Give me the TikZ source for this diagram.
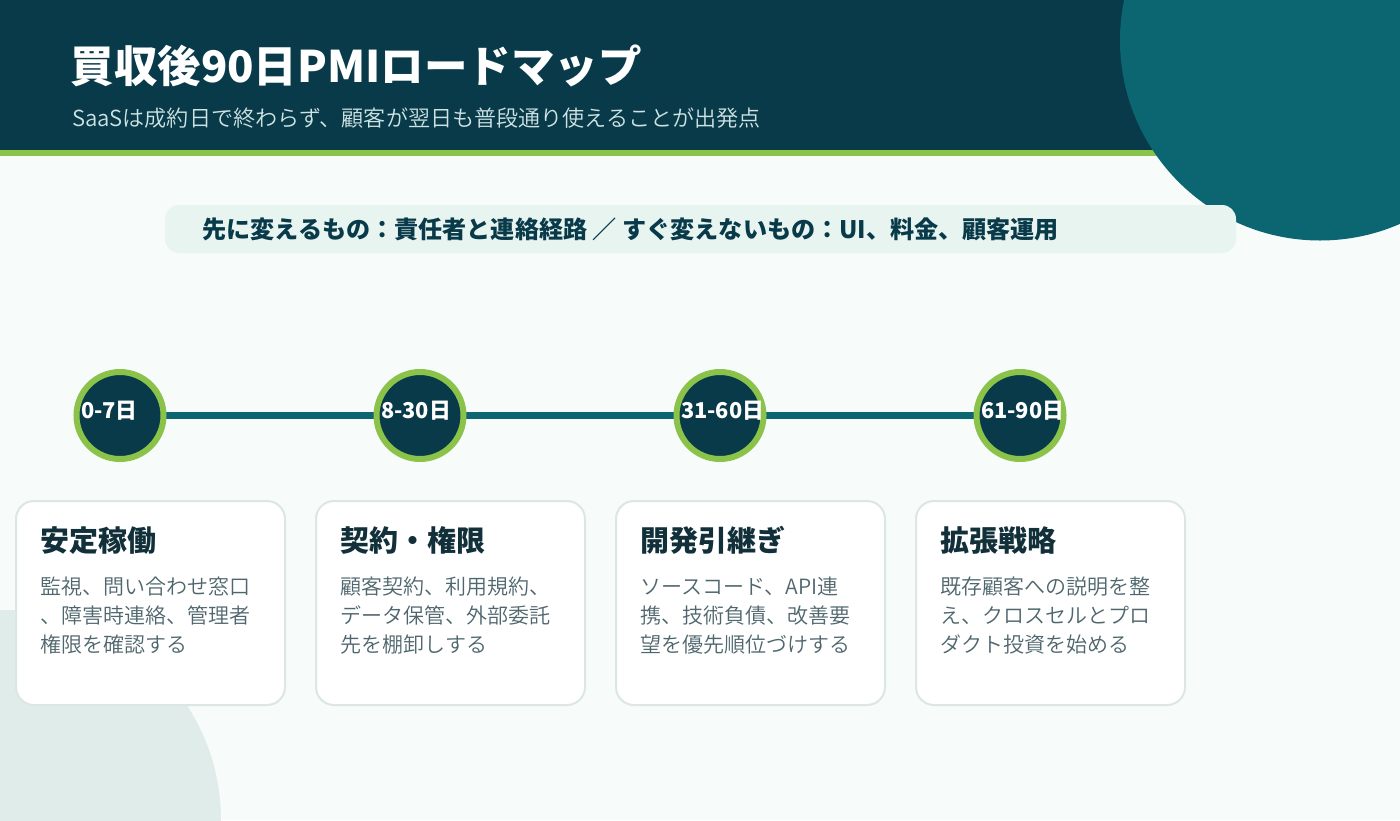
\documentclass[tikz,border=0pt]{standalone}
\usepackage{fontspec}
\setmainfont{Noto Sans CJK JP}
\newfontfamily\jplight{Noto Sans CJK JP DemiLight}
\definecolor{navy}{HTML}{083A4A}
\definecolor{teal2}{HTML}{0B6672}
\definecolor{leaf}{HTML}{8BC34A}
\definecolor{paper}{HTML}{F7FBFA}
\definecolor{band}{HTML}{E8F4F0}
\definecolor{blob}{HTML}{E0ECEA}
\definecolor{edge}{HTML}{DCE7E4}
\definecolor{ink}{HTML}{12303A}
\definecolor{soft}{HTML}{4F666E}
\definecolor{subcol}{HTML}{CFE3E3}
\newcommand{\fs}[1]{\fontsize{#1pt}{#1pt}\selectfont}
\tikzset{
  x=1pt,y=-1pt,
  txt/.style={inner sep=0pt,outer sep=0pt,anchor=base west},
  titletxt/.style={txt,text=white,font=\fs{43.5}\bfseries},
  subtxt/.style={txt,text=subcol,font=\fs{22.1}\jplight},
  bandtxt/.style={txt,text=navy,font=\fs{24.1}\bfseries},
  phase/.style={circle,draw=leaf,fill=navy,line width=6pt,minimum size=87pt,inner sep=0pt,outer sep=0pt},
  phasetxt/.style={txt,text=white,font=\fs{21.8}\bfseries},
  link/.style={draw=teal2,line width=6.5pt},
  cardbox/.style={draw=edge,fill=white,line width=2pt,rounded corners=18pt},
  cardhead/.style={txt,text=ink,font=\fs{29}\bfseries},
  cardbody/.style={txt,text=soft,font=\fs{21}\jplight},
}
\begin{document}
\begin{tikzpicture}
\useasboundingbox (0,0) rectangle (1400,820);
\clip (0,0) rectangle (1400,820);
\fill[paper] (0,0) rectangle (1400,820);
\fill[blob] (11,820) circle[radius=210pt];
\fill[navy] (0,0) rectangle (1400,150);
\fill[leaf] (0,150) rectangle (1400,156);
\fill[teal2] (1320,40.5) circle[radius=200pt];
\node[titletxt] (title) at (70.5,82) {買収後90日PMIロードマップ};
\node[subtxt] (sub) at (72,126) {SaaSは成約日で終わらず、顧客が翌日も普段通り使えることが出発点};
\fill[band,rounded corners=14pt] (165,205) rectangle (1236,253);
\node[bandtxt] (bandt) at (202.5,238) {先に変えるもの：責任者と連絡経路 ／ すぐ変えないもの：UI、料金、顧客運用};
\coordinate (c1) at (120,415.5);
\coordinate (c2) at (420,415.5);
\coordinate (c3) at (720,415.5);
\coordinate (c4) at (1020,415.5);
\draw[link] (c1) -- (c2);
\draw[link] (c2) -- (c3);
\draw[link] (c3) -- (c4);
\node[phase] (p1) at (c1) {};
\node[phase] (p2) at (c2) {};
\node[phase] (p3) at (c3) {};
\node[phase] (p4) at (c4) {};
\node[phasetxt] (t1) at (81,418.5) {0-7日};
\node[phasetxt] (t2) at (381,418.5) {8-30日};
\node[phasetxt] (t3) at (681,418.5) {31-60日};
\node[phasetxt] (t4) at (981,418.5) {61-90日};
\draw[cardbox] (16,501) rectangle (285,705);
\draw[cardbox] (316,501) rectangle (585,705);
\draw[cardbox] (616,501) rectangle (885,705);
\draw[cardbox] (916,501) rectangle (1185,705);
\node[cardhead] (h1) at (40.5,551) {安定稼働};
\node[cardhead] (h2) at (340.5,551) {契約・権限};
\node[cardhead] (h3) at (640.5,551) {開発引継ぎ};
\node[cardhead] (h4) at (940.5,551) {拡張戦略};
\node[cardbody] (b1a) at (40.8,594) {監視、問い合わせ窓口};
\node[cardbody] (b1b) at (40.8,623) {、障害時連絡、管理者};
\node[cardbody] (b1c) at (40.8,652) {権限を確認する};
\node[cardbody] (b2a) at (340.8,594) {顧客契約、利用規約、};
\node[cardbody] (b2b) at (340.8,623) {データ保管、外部委託};
\node[cardbody] (b2c) at (340.8,652) {先を棚卸しする};
\node[cardbody] (b3a) at (640.8,594) {ソースコード、API連};
\node[cardbody] (b3b) at (640.8,623) {携、技術負債、改善要};
\node[cardbody] (b3c) at (640.8,652) {望を優先順位づけする};
\node[cardbody] (b4a) at (940.8,594) {既存顧客への説明を整};
\node[cardbody] (b4b) at (940.8,623) {え、クロスセルとプロ};
\node[cardbody] (b4c) at (940.8,652) {ダクト投資を始める};
\end{tikzpicture}
\end{document}
